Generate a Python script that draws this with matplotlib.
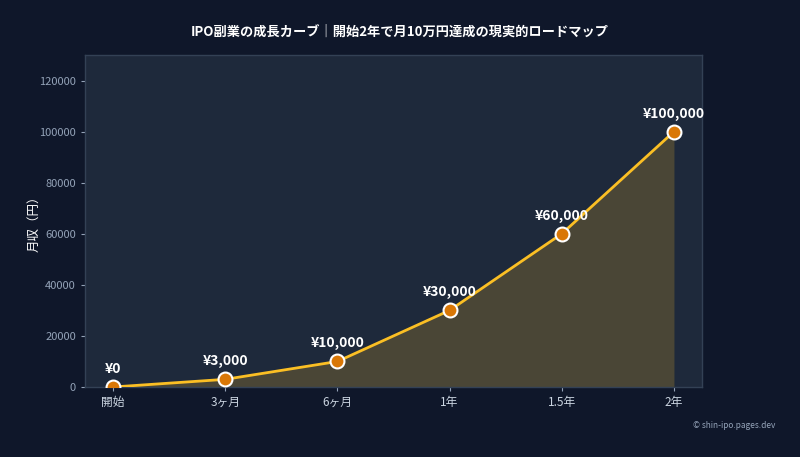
import matplotlib.pyplot as plt
import numpy as np

plt.rcParams['font.family'] = ['Noto Sans CJK JP', 'DejaVu Sans']

# data
stages = ["開始", "3ヶ月", "6ヶ月", "1年", "1.5年", "2年"]
income = [0, 3000, 10000, 30000, 60000, 100000]
labels = ["¥0", "¥3,000", "¥10,000", "¥30,000", "¥60,000", "¥100,000"]

bg = "#0f172a"
panel = "#1e293b"
amber = "#fbbf24"
orange = "#d97706"

fig = plt.figure(figsize=(8, 4.57), dpi=100, facecolor=bg)
ax = fig.add_axes([85/800, 1 - 387/457, 617/800, 332/457])
ax.set_facecolor(panel)

x = np.arange(len(stages))
ax.fill_between(x, income, 0, color=amber, alpha=0.2, linewidth=0)
ax.plot(x, income, color=amber, linewidth=2, zorder=3)
ax.plot(x, income, linestyle='None', marker='o', markersize=10,
        markerfacecolor=orange, markeredgecolor='white', markeredgewidth=1.5, zorder=4)

# value labels above points
for xi, yi, lab in zip(x, income, labels):
    ax.annotate(lab, (xi, yi), xytext=(0, 8), textcoords='offset points',
                ha='center', va='bottom', color='white', fontsize=10, fontweight='bold')

ax.set_xlim(-0.25, 5.25)
ax.set_ylim(0, 130000)
ax.set_xticks(x)
ax.set_xticklabels(stages)
ax.set_yticks(np.arange(0, 130000, 20000))
ax.tick_params(axis='both', colors='#94a3b8', labelsize=8, length=3)
for lab in ax.get_xticklabels():
    lab.set_color('#cbd5e1')
    lab.set_fontsize(8.5)
for lab in ax.get_yticklabels():
    lab.set_color('#94a3b8')
for s in ax.spines.values():
    s.set_color('#334155')
    s.set_linewidth(1)

ax.set_ylabel("月収（円）", color='white', fontsize=9, labelpad=-1)

fig.text(0.5, 1 - 32/457, "IPO副業の成長カーブ｜開始2年で月10万円達成の現実的ロードマップ",
         ha='center', va='center', color='white', fontsize=9.5, fontweight='bold')
fig.text(775/800, 1 - 426/457, "© shin-ipo.pages.dev", ha='right', va='center',
         color='#94a3b8', fontsize=6)

fig.savefig("out.png", dpi=100, facecolor=bg)
